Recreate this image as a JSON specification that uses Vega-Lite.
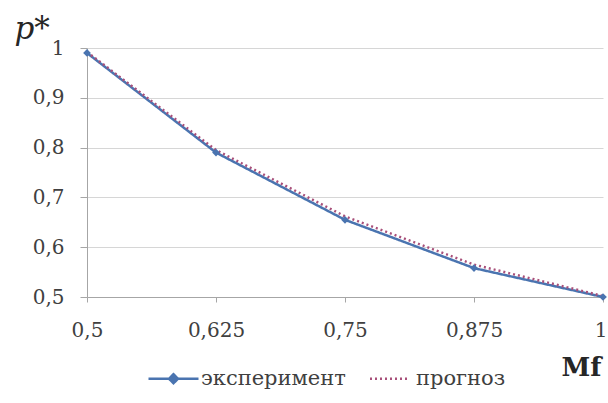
{
  "$schema": "https://vega.github.io/schema/vega-lite/v6.json",
  "width": 516,
  "height": 249,
  "autosize": {"type": "none"},
  "padding": {"left": 87, "top": 48, "right": 5, "bottom": 106},
  "background": "white",
  "config": {"view": {"stroke": null}, "font": "DejaVu Serif"},
  "data": {
    "values": [
      {"mf": 0.5, "p": 0.99, "series": "эксперимент"},
      {"mf": 0.625, "p": 0.79, "series": "эксперимент"},
      {"mf": 0.75, "p": 0.655, "series": "эксперимент"},
      {"mf": 0.875, "p": 0.558, "series": "эксперимент"},
      {"mf": 1, "p": 0.5, "series": "эксперимент"},
      {"mf": 0.5, "p": 0.992, "series": "прогноз"},
      {"mf": 0.625, "p": 0.795, "series": "прогноз"},
      {"mf": 0.75, "p": 0.662, "series": "прогноз"},
      {"mf": 0.875, "p": 0.565, "series": "прогноз"},
      {"mf": 1, "p": 0.502, "series": "прогноз"}
    ]
  },
  "layer": [
    {
      "mark": {"type": "line", "strokeWidth": 2.5},
      "encoding": {
        "x": {
          "field": "mf", "type": "quantitative",
          "scale": {"domain": [0.5, 1], "nice": false, "zero": false},
          "axis": {
            "values": [0.5, 0.625, 0.75, 0.875, 1],
            "labelExpr": "replace(format(datum.value, '~g'), '.', ',')",
            "grid": false,
            "domainColor": "#a6a6a6",
            "tickColor": "#a6a6a6",
            "tickSize": 5,
            "labelPadding": 18,
            "labelFont": "DejaVu Serif",
            "labelFontSize": 20,
            "labelColor": "#404040",
            "labelFlush": false,
            "labelAlign": {"condition": {"test": "datum.value === 1", "value": "right"}, "value": "center"},
            "labelOffset": {"condition": {"test": "datum.value === 1", "value": 4}, "value": 0},
            "title": "Mf",
            "titleFont": "DejaVu Serif",
            "titleFontSize": 26,
            "titleFontWeight": "bold",
            "titleColor": "#262626",
            "titleAnchor": "start",
            "titleAlign": "left",
            "titleBaseline": "alphabetic",
            "titleX": 474,
            "titleY": 78
          }
        },
        "y": {
          "field": "p", "type": "quantitative",
          "scale": {"domain": [0.5, 1], "nice": false, "zero": false},
          "axis": {
            "values": [0.5, 0.6, 0.7, 0.8, 0.9, 1],
            "labelExpr": "replace(format(datum.value, '~g'), '.', ',')",
            "grid": true,
            "gridColor": "#d6d6d6",
            "domainColor": "#a6a6a6",
            "tickColor": "#a6a6a6",
            "tickSize": 7,
            "labelPadding": 16,
            "labelFont": "DejaVu Serif",
            "labelFontSize": 20,
            "labelColor": "#404040",
            "labelFlush": false,
            "title": "p*",
            "titleFont": "DejaVu Serif",
            "titleFontSize": 31,
            "titleFontStyle": "italic",
            "titleFontWeight": "normal",
            "titleColor": "#262626",
            "titleAngle": 0,
            "titleAlign": "left",
            "titleBaseline": "alphabetic",
            "titleX": -73,
            "titleY": -10
          }
        },
        "color": {
          "field": "series", "type": "nominal",
          "scale": {"domain": ["эксперимент", "прогноз"], "range": ["#4A74B0", "#A8507A"]},
          "legend": {
            "title": null,
            "orient": "none",
            "direction": "horizontal",
            "legendX": 60,
            "legendY": 304,
            "symbolType": "stroke",
            "symbolSize": 2500,
            "symbolStrokeWidth": 2.5,
            "labelFont": "DejaVu Serif",
            "labelFontSize": 21,
            "labelColor": "#404040",
            "labelOffset": 1,
            "columnPadding": 16,
            "encode": {
              "symbols": {
                "update": {
                  "shape": {"signal": "datum.label === 'эксперимент' ? 'M-1,0H1M-0.18,0L0,-0.18L0.18,0L0,0.18Z' : 'M-0.74,0H0.74'"},
                  "fill": {"signal": "datum.label === 'эксперимент' ? '#4A74B0' : 'transparent'"}
                }
              }
            }
          }
        },
        "strokeDash": {
          "field": "series", "type": "nominal",
          "scale": {"domain": ["эксперимент", "прогноз"], "range": [[1, 0], [2, 3]]}
        }
      }
    },
    {
      "transform": [{"filter": "datum.series === 'эксперимент'"}],
      "mark": {"type": "point", "shape": "diamond", "filled": true, "color": "#4A74B0", "size": 60, "opacity": 1},
      "encoding": {
        "x": {"field": "mf", "type": "quantitative"},
        "y": {"field": "p", "type": "quantitative"}
      }
    }
  ]
}
